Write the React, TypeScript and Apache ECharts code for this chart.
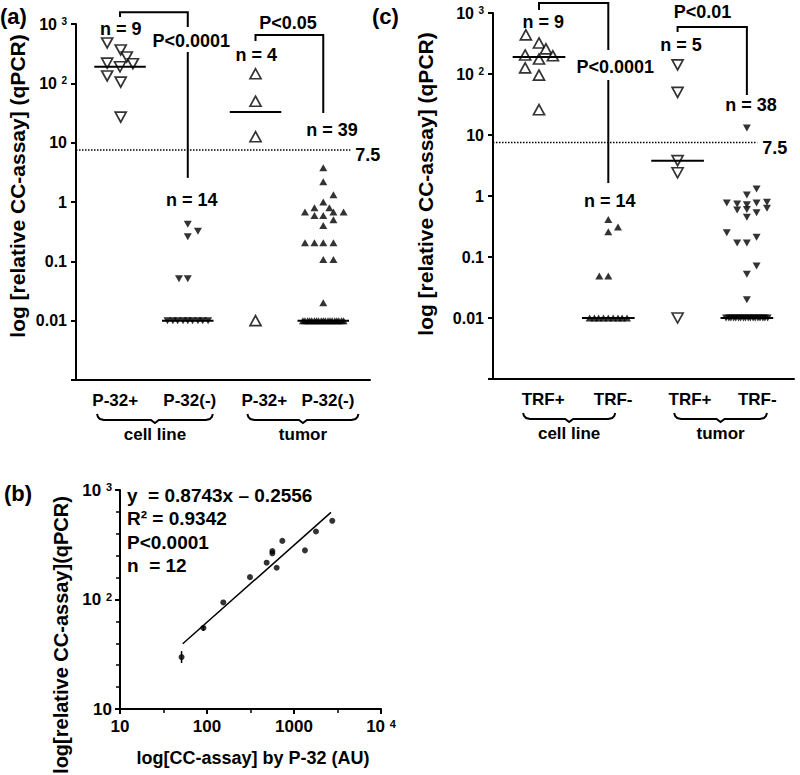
import React, { useEffect, useRef } from "react";
import * as echarts from "echarts";

// ---------------- DATA ----------------
// Panel (a): P-32 status
const groupsA = ["P-32+", "P-32(-)", "P-32+", "P-32(-)"];
const sourcesA = ["cell line", "tumor"];
const nLabelsA = ["n = 9", "n = 14", "n = 4", "n = 39"];
const a1Values = [479, 365, 278, 219, 190, 214, 133, 105, 27];
const a1Jitter = [-0.19, 0.01, 0.1, -0.19, 0, 0.19, -0.19, 0.01, 0.01];
const a2Values = [0.42, 0.32, 0.26, 0.051, 0.051, 0.01, 0.01, 0.01, 0.01, 0.01, 0.01, 0.01, 0.01, 0.01];
const a2Jitter = [0, 0.15, 0, -0.13, 0, -0.3, -0.22, -0.15, -0.07, 0, 0.07, 0.15, 0.22, 0.3];
const a3Values = [145, 50, 12.6, 0.01];
const a3Jitter = [0, 0, 0, 0];
const a4Values = [
  3.77, 2.19, 1.32, 1.0, 0.8, 0.8, 0.68, 0.68, 0.68, 0.59, 0.59, 0.5, 0.4, 0.206, 0.206, 0.206, 0.206,
  0.107, 0.107, 0.02,
  0.01, 0.01, 0.01, 0.01, 0.01, 0.01, 0.01, 0.01, 0.01, 0.01, 0.01, 0.01, 0.01, 0.01, 0.01, 0.01, 0.01, 0.01, 0.01,
];
const a4Jitter = [
  0, 0, 0.15, 0, -0.13, 0.09, -0.27, 0.15, 0.3, -0.13, 0, 0.15, 0, -0.27, -0.13, 0, 0.15,
  0, 0.15, 0,
  -0.3, -0.27, -0.23, -0.2, -0.17, -0.13, -0.1, -0.07, -0.03, 0, 0.03, 0.07, 0.1, 0.13, 0.17, 0.2, 0.23, 0.27, 0.3,
];
const mediansA = [190, 0.01, 33, 0.01];

// Panel (c): TRF status
const groupsC = ["TRF+", "TRF-", "TRF+", "TRF-"];
const sourcesC = ["cell line", "tumor"];
const nLabelsC = ["n = 9", "n = 14", "n = 5", "n = 38"];
const c1Values = [437, 323, 258, 205, 176, 199, 126, 96, 26];
const c1Jitter = [-0.19, 0, 0.1, -0.2, 0, 0.2, -0.2, 0, 0];
const c2Values = [0.41, 0.31, 0.26, 0.049, 0.049, 0.01, 0.01, 0.01, 0.01, 0.01, 0.01, 0.01, 0.01, 0.01];
const c2Jitter = [0, 0.14, 0, -0.13, 0, -0.27, -0.2, -0.14, -0.07, 0, 0.07, 0.14, 0.2, 0.27];
const c3Values = [141, 50, 3.8, 2.4, 0.01];
const c3Jitter = [0, 0, 0, 0, 0];
const c4Values = [
  13.0, 1.3, 1.04, 0.77, 0.74, 0.72, 0.77, 0.79, 0.59, 0.6, 0.63, 0.53, 0.45, 0.25, 0.21, 0.17, 0.17,
  0.071, 0.052, 0.02,
  0.01, 0.01, 0.01, 0.01, 0.01, 0.01, 0.01, 0.01, 0.01, 0.01, 0.01, 0.01, 0.01, 0.01, 0.01, 0.01, 0.01, 0.01,
];
const c4Jitter = [
  0, 0.14, 0, -0.29, -0.14, 0, 0.14, 0.29, -0.14, 0, 0.29, 0.14, 0, -0.29, 0.14, -0.14, 0,
  0.14, 0, 0,
  -0.3, -0.26, -0.23, -0.19, -0.16, -0.12, -0.09, -0.05, -0.02, 0.02, 0.05, 0.09, 0.12, 0.16, 0.19, 0.23, 0.26, 0.3,
];
const mediansC = [190, 0.01, 3.8, 0.01];

const cutoff = 7.5;

// Shared log tick labels for (a) and (c)
const yTickExpAC = [-3, -2, -1, 0, 1, 2, 3];
const yTickTextAC = ["", "0.01", "0.1", "1", "10", "10^2", "10^3"];

// Panel (b): correlation
const bX = [51, 91, 154, 312, 485, 564, 564, 632, 734, 1336, 1790, 2754];
const bY = [29.8, 55, 94, 160, 217, 277, 264, 195, 343, 281, 418, 523];
const bErrIndex = [0, 1];
const bErrLow = [26.3, 51.6];
const bErrHigh = [33.8, 58.6];
const bFitX = [52.6, 2660];
const bFitY = [39.4, 624];
const bStats = ["y  = 0.8743x \u2013 0.2556", "R\u00b2 = 0.9342", "P<0.0001", "n  = 12"];
const bXTickExp = [1, 2, 3, 4];
const bXTickText = ["10", "100", "1000", "10^4"];
const bYTickExp = [1, 2, 3];
const bYTickText = ["10", "10^2", "10^3"];

// Significance brackets (data units)
const bracketsA = [
  { x1: 1, x2: 2, top: 1585, leftEnd: 1312, gapTop: 891, gapBottom: 337, rightEnd: 2.55, label: "P<0.0001", lx: 2.05, ly: 518 },
  { x1: 3, x2: 4, top: 653, leftEnd: 518, gapTop: 0, gapBottom: 0, rightEnd: 31.6, label: "P<0.05", lx: 3.48, ly: 1040 },
];
const bracketsC = [
  { x1: 1, x2: 2, top: 1459, leftEnd: 1120, gapTop: 247, gapBottom: 79.8, rightEnd: 1.63, label: "P<0.0001", lx: 2.1, ly: 130 },
  { x1: 3, x2: 4, top: 589, leftEnd: 489, gapTop: 0, gapBottom: 0, rightEnd: 45.3, label: "P<0.01", lx: 3.36, ly: 1038 },
];
const nPosAx = [1.01, 2.06, 3.01, 4.13];
const nPosAy = [824, 1.09, 301, 16.4];
const nPosCx = [1.06, 2.02, 3.05, 4.06];
const nPosCy = [711, 0.83, 299, 31];

// ---------------- LAYOUT / STYLE ----------------
const FONT = '"Liberation Sans", Arial, Helvetica, sans-serif';
const BLACK = "#000";
const X_RANGE_A = [0.35, 4.69];
const X_RANGE_C = [0.336, 4.68];
const CUT_END_A = 4.4;
const CUT_END_C = 4.15;
const MEDIAN_HALF = 0.38;
const CAT_POS_A = [0.93, 2.03, 3.13, 4.07];
const CAT_POS_C = [1.06, 2.07, 3.18, 4.15];
const BRACE_A = [[0.66, 2.37], [2.88, 4.52]];
const BRACE_C = [[0.77, 2.1], [2.95, 4.29]];
const GRID_B = { left: 120, top: 490, width: 261, height: 219 };

function richLabel(t: string) {
  if (!t) return "";
  if (t.indexOf("^") >= 0) {
    const [b, s] = t.split("^");
    return `{b|${b}} {s|${s}}`;
  }
  return `{b|${t}}`;
}

function makeFormatter(exps: number[], texts: string[]) {
  return (v: number) => {
    const e = Math.round(Math.log10(v));
    const i = exps.indexOf(e);
    return i >= 0 ? richLabel(texts[i]) : "";
  };
}

function richStyles(size: number) {
  return {
    b: { fontSize: size, fontWeight: "bold", fontFamily: FONT, color: BLACK },
    s: { fontSize: Math.round(size * 0.65), fontWeight: "bold", fontFamily: FONT, color: BLACK, verticalAlign: "top" },
  };
}

const axisLineStyle = { color: BLACK, width: 2 };

function catXAxis(grid: number, range: number[]) {
  return {
    type: "value",
    gridIndex: grid,
    min: range[0],
    max: range[1],
    axisLine: { show: true, onZero: false, lineStyle: axisLineStyle },
    axisTick: { show: false },
    axisLabel: { show: false },
    splitLine: { show: false },
  };
}

function logYAxisAC(grid: number) {
  return {
    type: "log",
    logBase: 10,
    gridIndex: grid,
    min: 0.001,
    max: 1000,
    splitNumber: 6,
    axisLine: { show: true, onZero: false, lineStyle: axisLineStyle },
    axisTick: { show: true, length: 5, lineStyle: axisLineStyle },
    axisLabel: {
      show: true,
      margin: 9,
      fontSize: 16,
      fontWeight: "bold",
      fontFamily: FONT,
      color: BLACK,
      showMinLabel: true,
      showMaxLabel: true,
      formatter: makeFormatter(yTickExpAC, yTickTextAC),
      rich: richStyles(16),
    },
    splitLine: { show: false },
  };
}

function triSeries(axis: number, group: number, values: number[], jitter: number[], open: boolean, down: boolean) {
  return {
    type: "scatter",
    xAxisIndex: axis,
    yAxisIndex: axis,
    silent: true,
    data: values.map((v, i) => [group + jitter[i], v]),
    symbol: "triangle",
    symbolRotate: down ? 180 : 0,
    symbolSize: open ? [11, 10] : [8, 7],
    itemStyle: open
      ? { color: "#fff", borderColor: BLACK, borderWidth: 1.7 }
      : { color: BLACK, borderWidth: 0 },
    z: 3,
  };
}

function medianSeries(axis: number, medians: number[]) {
  return medians.map((m, i) => ({
    type: "line",
    xAxisIndex: axis,
    yAxisIndex: axis,
    silent: true,
    symbol: "none",
    data: [[i + 1 - MEDIAN_HALF, m], [i + 1 + MEDIAN_HALF, m]],
    lineStyle: { color: BLACK, width: 2 },
    z: 4,
  }));
}

function cutoffSeries(axis: number, xmin: number, xend: number) {
  return {
    type: "line",
    xAxisIndex: axis,
    yAxisIndex: axis,
    silent: true,
    symbol: "none",
    data: [[xmin, cutoff], [xend, cutoff]],
    lineStyle: { color: BLACK, width: 1.5, type: [1.5, 1.5] },
    z: 2,
  };
}

// Evenly spaced (in log units) minor ticks for panel (b), drawn by an overlay grid with the same rect
function minorOverlay(kind: "x" | "y", max: number, split: number) {
  return {
    type: "value",
    gridIndex: 3,
    min: 1,
    max,
    interval: 1,
    position: kind === "x" ? "bottom" : "left",
    axisLine: { show: false, onZero: false },
    axisTick: { show: true, length: 5, lineStyle: { color: BLACK, width: 2 } },
    axisLabel: { show: false },
    splitLine: { show: false },
    minorTick: { show: true, splitNumber: split, length: 4, lineStyle: { color: BLACK, width: 1.5 } },
    minorSplitLine: { show: false },
  };
}

function buildOption() {
  return {
    animation: false,
    backgroundColor: "#fff",
    textStyle: { fontFamily: FONT },
    grid: [
      { left: 76, top: 24, width: 294, height: 356, containLabel: false, outerBoundsMode: "none" },
      { ...GRID_B, containLabel: false, outerBoundsMode: "none" },
      { left: 493, top: 13, width: 301, height: 366, containLabel: false, outerBoundsMode: "none" },
      { ...GRID_B, containLabel: false, outerBoundsMode: "none" },
    ],
    xAxis: [
      catXAxis(0, X_RANGE_A),
      {
        type: "log",
        logBase: 10,
        gridIndex: 1,
        min: 10,
        max: 10000,
        splitNumber: 3,
        axisLine: { show: true, onZero: false, lineStyle: axisLineStyle },
        axisTick: { show: true, length: 5, lineStyle: axisLineStyle },
        axisLabel: {
          margin: 9,
          fontSize: 17,
          fontWeight: "bold",
          fontFamily: FONT,
          color: BLACK,
          showMinLabel: true,
          showMaxLabel: true,
          formatter: makeFormatter(bXTickExp, bXTickText),
          rich: richStyles(17),
        },
        splitLine: { show: false },
      },
      catXAxis(2, X_RANGE_C),
      minorOverlay("x", 4, 2),
    ],
    yAxis: [
      logYAxisAC(0),
      {
        type: "log",
        logBase: 10,
        gridIndex: 1,
        min: 10,
        max: 1000,
        splitNumber: 2,
        axisLine: { show: true, onZero: false, lineStyle: axisLineStyle },
        axisTick: { show: true, length: 5, lineStyle: axisLineStyle },
        axisLabel: {
          margin: 8,
          fontSize: 17,
          fontWeight: "bold",
          fontFamily: FONT,
          color: BLACK,
          showMinLabel: true,
          showMaxLabel: true,
          formatter: makeFormatter(bYTickExp, bYTickText),
          rich: richStyles(17),
        },
        splitLine: { show: false },
      },
      logYAxisAC(2),
      minorOverlay("y", 3, 5),
    ],
    series: [
      // (a)
      triSeries(0, 1, a1Values, a1Jitter, true, true),
      triSeries(0, 2, a2Values, a2Jitter, false, true),
      triSeries(0, 3, a3Values, a3Jitter, true, false),
      triSeries(0, 4, a4Values, a4Jitter, false, false),
      ...medianSeries(0, mediansA),
      cutoffSeries(0, X_RANGE_A[0], CUT_END_A),
      // (c)
      triSeries(2, 1, c1Values, c1Jitter, true, false),
      triSeries(2, 2, c2Values, c2Jitter, false, false),
      triSeries(2, 3, c3Values, c3Jitter, true, true),
      triSeries(2, 4, c4Values, c4Jitter, false, true),
      ...medianSeries(2, mediansC),
      cutoffSeries(2, X_RANGE_C[0], CUT_END_C),
      // (b)
      {
        type: "line",
        xAxisIndex: 1,
        yAxisIndex: 1,
        silent: true,
        symbol: "none",
        data: bFitX.map((x, i) => [x, bFitY[i]]),
        lineStyle: { color: BLACK, width: 1.5 },
        z: 2,
      },
      {
        type: "custom",
        xAxisIndex: 1,
        yAxisIndex: 1,
        silent: true,
        data: bErrIndex.map((k, i) => [bX[k], bErrLow[i], bErrHigh[i]]),
        renderItem: (_p: any, api: any) => {
          const lo = api.coord([api.value(0), api.value(1)]);
          const hi = api.coord([api.value(0), api.value(2)]);
          return {
            type: "line",
            shape: { x1: lo[0], y1: lo[1], x2: hi[0], y2: hi[1] },
            style: { stroke: BLACK, lineWidth: 1.5 },
          };
        },
        z: 3,
      },
      {
        type: "scatter",
        xAxisIndex: 1,
        yAxisIndex: 1,
        silent: true,
        symbol: "circle",
        symbolSize: 6,
        data: bX.map((x, i) => [x, bY[i]]),
        itemStyle: { color: BLACK },
        z: 4,
      },
    ],
  };
}

function text(x: number, y: number, t: string, size: number, align = "center", vAlign = "middle", rotation = 0) {
  return {
    type: "text",
    x,
    y,
    rotation,
    silent: true,
    z: 10,
    style: {
      text: t,
      fill: BLACK,
      fontSize: size,
      fontWeight: "bold",
      fontFamily: FONT,
      align,
      verticalAlign: vAlign,
      textAlign: align,
      textVerticalAlign: vAlign,
    },
  };
}

function buildGraphics(chart: any) {
  const g: any[] = [];
  const px = (axis: number, x: number, y: number): number[] =>
    chart.convertToPixel({ xAxisIndex: axis, yAxisIndex: axis }, [x, y]);
  const lineStyle = { stroke: BLACK, lineWidth: 2, fill: "none" };

  const panel = (
    axis: number,
    brackets: typeof bracketsA,
    nx: number[],
    ny: number[],
    nLabels: string[],
    groups: string[],
    catPos: number[],
    braces: number[][],
    sources: string[],
    cutEnd: number,
    yMin: number
  ) => {
    brackets.forEach((b) => {
      const p1 = px(axis, b.x1, b.leftEnd);
      const p2 = px(axis, b.x1, b.top);
      const p3 = px(axis, b.x2, b.top);
      const p4 = px(axis, b.x2, b.gapTop > 0 ? b.gapTop : b.rightEnd);
      g.push({ type: "polyline", silent: true, z: 9, shape: { points: [p1, p2, p3, p4] }, style: lineStyle });
      if (b.gapTop > 0) {
        const q1 = px(axis, b.x2, b.gapBottom);
        const q2 = px(axis, b.x2, b.rightEnd);
        g.push({ type: "line", silent: true, z: 9, shape: { x1: q1[0], y1: q1[1], x2: q2[0], y2: q2[1] }, style: lineStyle });
      }
      const lp = px(axis, b.lx, b.ly);
      g.push(text(lp[0], lp[1], b.label, 18));
    });
    nLabels.forEach((t, i) => {
      const p = px(axis, nx[i], ny[i]);
      g.push(text(p[0], p[1], t, 18));
    });
    const cp = px(axis, cutEnd, cutoff);
    g.push(text(cp[0] + 5, cp[1] + 5, String(cutoff), 18, "left"));
    const base = px(axis, 1, yMin)[1];
    groups.forEach((t, i) => {
      const p = px(axis, catPos[i], yMin);
      g.push(text(p[0], base + 20, t, 17));
    });
    braces.forEach((br, i) => {
      const xl = px(axis, br[0], yMin)[0];
      const xr = px(axis, br[1], yMin)[0];
      const xc = (xl + xr) / 2;
      const y = base + 34;
      const pts = [
        [xl, y], [xl + 1, y + 3], [xl + 3, y + 5], [xl + 7, y + 6],
        [xc - 4, y + 6], [xc, y + 9], [xc + 4, y + 6],
        [xr - 7, y + 6], [xr - 3, y + 5], [xr - 1, y + 3], [xr, y],
      ];
      g.push({ type: "polyline", silent: true, z: 9, shape: { points: pts }, style: lineStyle });
      g.push(text(xc, base + 54, sources[i], 17));
    });
  };

  panel(0, bracketsA, nPosAx, nPosAy, nLabelsA, groupsA, CAT_POS_A, BRACE_A, sourcesA, CUT_END_A, 0.001);
  panel(2, bracketsC, nPosCx, nPosCy, nLabelsC, groupsC, CAT_POS_C, BRACE_C, sourcesC, CUT_END_C, 0.001);

  // (b) statistics block
  const tl = px(1, 10, 1000);
  bStats.forEach((t, i) => g.push(text(tl[0] + 7, tl[1] + 5 + i * 23.5, t, 19, "left")));

  // titles
  g.push(text(17, 186, "log [relative CC-assay] (qPCR)", 21, "center", "middle", Math.PI / 2));
  g.push(text(425, 184, "log [relative CC-assay] (qPCR)", 21, "center", "middle", Math.PI / 2));
  g.push(text(61, 635, "log[relative CC-assay](qPCR)", 20, "center", "middle", Math.PI / 2));
  g.push(text(253, 758, "log[CC-assay] by P-32 (AU)", 18));

  // panel letters
  g.push(text(0, 16, "(a)", 22, "left"));
  g.push(text(372, 16, "(c)", 22, "left"));
  g.push(text(4, 493, "(b)", 22, "left"));
  return g;
}

export default function App() {
  const ref = useRef<HTMLDivElement>(null);
  useEffect(() => {
    document.body.style.margin = "0";
    const chart = echarts.init(ref.current as HTMLDivElement, null, { renderer: "svg" });
    chart.setOption(buildOption() as any);
    chart.setOption({ graphic: buildGraphics(chart) } as any);
    return () => chart.dispose();
  }, []);
  return <div ref={ref} style={{ width: 800, height: 775 }} />;
}
